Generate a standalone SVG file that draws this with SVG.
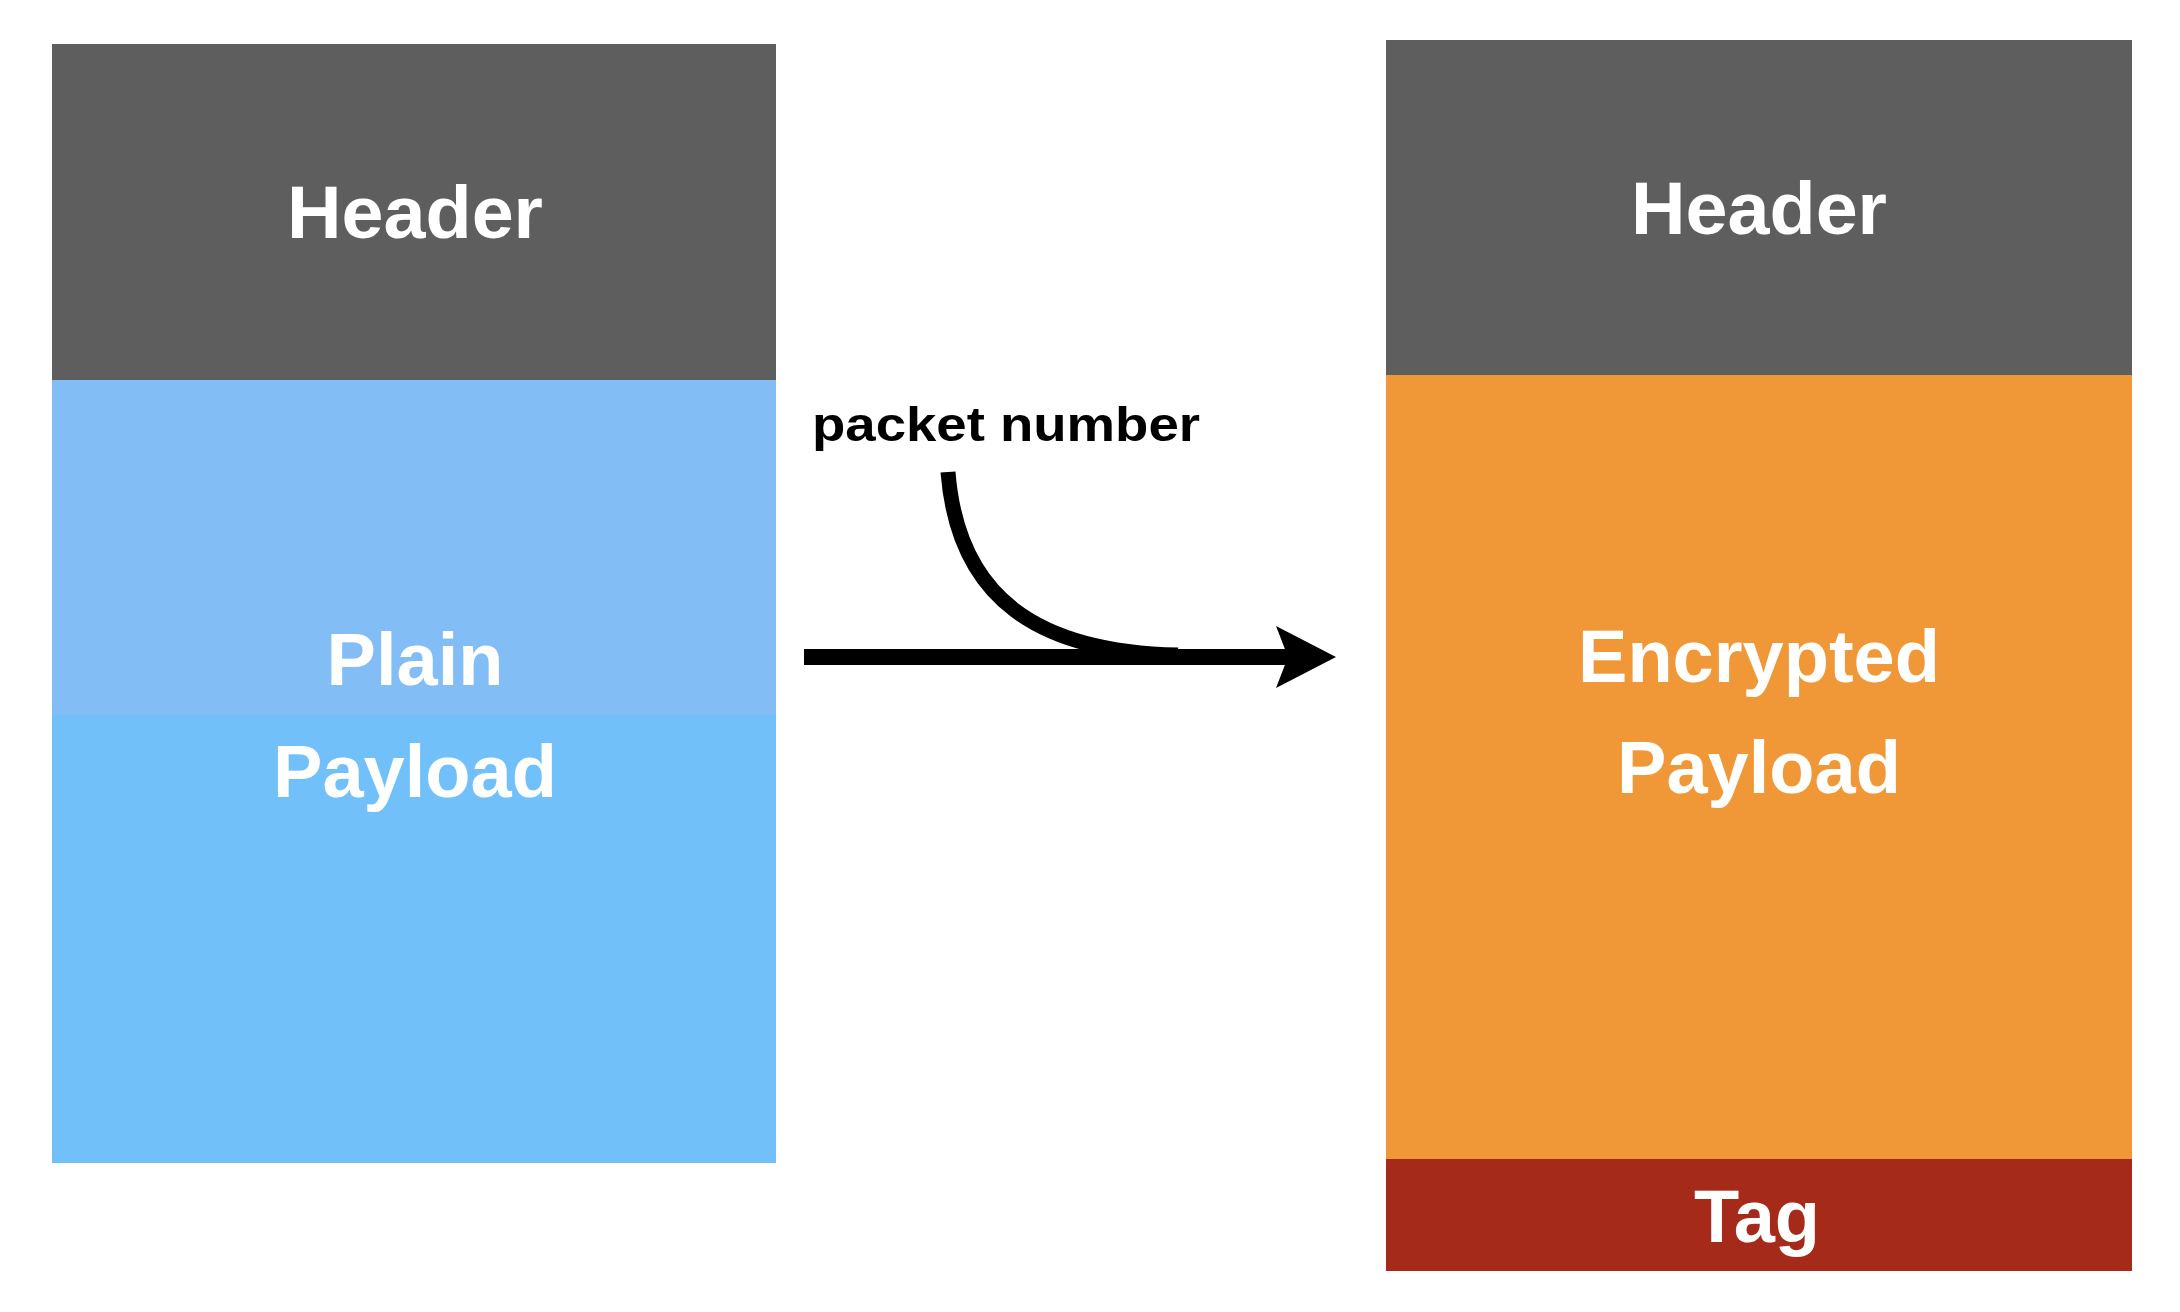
<svg xmlns="http://www.w3.org/2000/svg" width="2180" height="1312" viewBox="0 0 2180 1312">
<style>
.lbl{font-family:"Liberation Sans",Arial,Helvetica,sans-serif;font-weight:bold;font-size:74px;fill:#ffffff;text-anchor:middle}
.big{font-size:75px}
.pn{font-family:"Liberation Sans",Arial,Helvetica,sans-serif;font-weight:bold;font-size:48px;fill:#000000}
.hdr{fill:#5e5e5e}
</style>
<rect width="2180" height="1312" fill="#ffffff"/>
<g id="plain-packet">
<rect class="hdr" x="52" y="44" width="724" height="336"/>
<rect x="52" y="380" width="724" height="336" fill="#82bef5"/>
<rect x="52" y="715" width="724" height="448" fill="#71c0f9"/>
<text class="lbl big" x="415" y="238" textLength="256" lengthAdjust="spacingAndGlyphs">Header</text>
<text class="lbl" x="415" y="685">Plain</text>
<text class="lbl" x="415" y="797">Payload</text>
</g>
<g id="encrypted-packet">
<rect class="hdr" x="1386" y="40" width="746" height="335"/>
<rect x="1386" y="375" width="746" height="784" fill="#f09838"/>
<rect x="1386" y="1159" width="746" height="112" fill="#a62a1a"/>
<text class="lbl big" x="1759" y="234" textLength="256" lengthAdjust="spacingAndGlyphs">Header</text>
<text class="lbl" x="1759" y="682">Encrypted</text>
<text class="lbl" x="1759" y="793">Payload</text>
<text class="lbl" x="1757" y="1242">Tag</text>
</g>
<g id="connectors">
<line x1="804" y1="657" x2="1290" y2="657" stroke="#000" stroke-width="16"/>
<polygon points="1336,657 1276,626 1288,657 1276,688" fill="#000"/>
<path d="M 948 472 C 958 600 1040 652 1178 655" fill="none" stroke="#000" stroke-width="15"/>
</g>
<text class="pn" x="812" y="441" textLength="388" lengthAdjust="spacingAndGlyphs">packet number</text>
</svg>
